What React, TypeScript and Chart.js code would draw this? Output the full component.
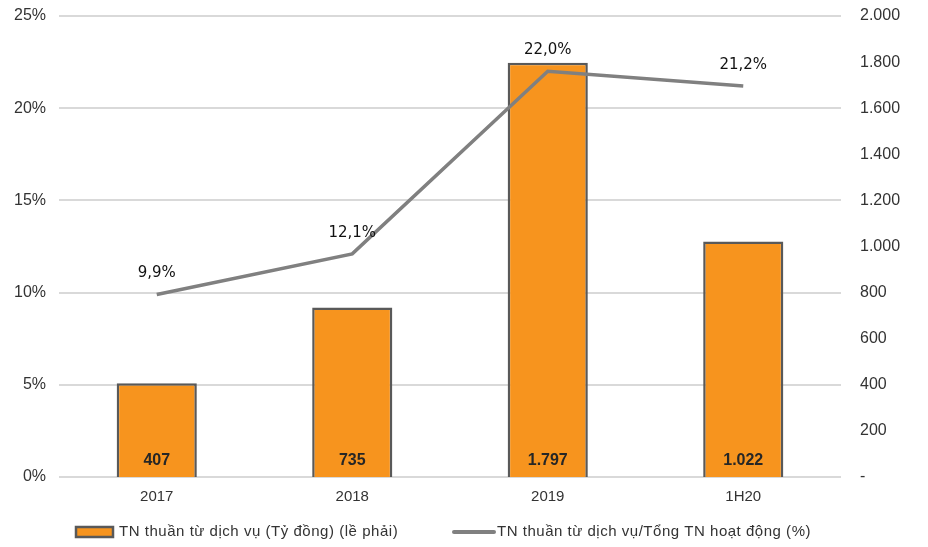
import React, { useEffect, useRef } from "react";
import { Chart, registerables } from "chart.js";

Chart.register(...registerables);

const categories = ["2017", "2018", "2019", "1H20"];
const revenue = [407, 735, 1797, 1022];
const ratio = [9.9, 12.1, 22.0, 21.2];
const barLabel = "TN thuần từ dịch vụ (Tỷ đồng) (lề phải)";
const lineLabel = "TN thuần từ dịch vụ/Tổng TN hoạt động (%)";

const ORANGE = "#F7941E";
const BAR_BORDER = "#595959";
const LINE = "#808080";
const TEXT = "#333333";
const FONT = "'Liberation Sans', Arial, sans-serif";

function fmtThousands(v: number): string {
  if (v === 0) return "-";
  const s = Math.round(v).toString();
  return s.replace(/\B(?=(\d{3})+(?!\d))/g, ".");
}
function fmtPct(v: number): string {
  return v.toFixed(1).replace(".", ",") + "%";
}

const labelsPlugin = {
  id: "customLabels",
  afterDatasetsDraw(chart: any) {
    const ctx = chart.ctx;
    ctx.save();
    const barMeta = chart.getDatasetMeta(0);
    ctx.font = `bold 16px ${FONT}`;
    ctx.fillStyle = "#262626";
    ctx.textAlign = "center";
    ctx.textBaseline = "middle";
    barMeta.data.forEach((el: any, i: number) => {
      ctx.fillText(fmtThousands(revenue[i]), el.x, el.base - 16);
    });
    const lineMeta = chart.getDatasetMeta(1);
    ctx.font = `15px 'DejaVu Sans', sans-serif`;
    ctx.fillStyle = "#111111";
    lineMeta.data.forEach((el: any, i: number) => {
      ctx.fillText(fmtPct(ratio[i]), el.x, el.y - 21);
    });
    ctx.restore();
  },
  afterDraw(chart: any) {
    const ctx = chart.ctx;
    ctx.save();
    const y = 532;
    ctx.fillStyle = ORANGE;
    ctx.strokeStyle = BAR_BORDER;
    ctx.lineWidth = 2.5;
    ctx.fillRect(76, 527, 37, 10);
    ctx.strokeRect(76, 527, 37, 10);
    ctx.font = `15px ${FONT}`;
    ctx.fillStyle = TEXT;
    ctx.textAlign = "left";
    ctx.textBaseline = "middle";
    const drawFit = (text: string, x: number, target: number) => {
      (ctx as any).letterSpacing = "0px";
      const w = ctx.measureText(text).width;
      const sp = (target - w) / text.length;
      (ctx as any).letterSpacing = sp.toFixed(2) + "px";
      ctx.fillText(text, x, y);
      (ctx as any).letterSpacing = "0px";
    };
    drawFit(barLabel, 119, 279);
    ctx.strokeStyle = LINE;
    ctx.lineWidth = 4;
    ctx.lineCap = "round";
    ctx.beginPath();
    ctx.moveTo(454, y);
    ctx.lineTo(494, y);
    ctx.stroke();
    drawFit(lineLabel, 497, 314);
    ctx.restore();
  },
};

export default function App() {
  const ref = useRef<HTMLCanvasElement>(null);
  useEffect(() => {
    document.body.style.margin = "0";
    const chart = new Chart(ref.current!, {
      type: "bar",
      data: {
        labels: categories,
        datasets: [
          {
            type: "bar",
            label: barLabel,
            data: revenue,
            yAxisID: "y1",
            backgroundColor: ORANGE,
            borderColor: BAR_BORDER,
            borderWidth: 2.5,
            barPercentage: 0.41,
            categoryPercentage: 1,
            order: 1,
          },
          {
            type: "line",
            label: lineLabel,
            data: ratio,
            yAxisID: "y",
            borderColor: LINE,
            borderWidth: 3.5,
            pointRadius: 0,
            tension: 0,
            order: 0,
          } as any,
        ],
      },
      options: {
        responsive: false,
        animation: false,
        layout: { padding: { top: 16, bottom: 40, left: 0, right: 0 } },
        plugins: { legend: { display: false }, tooltip: { enabled: false } },
        scales: {
          x: {
            grid: { display: false },
            border: { display: false },
            ticks: { color: TEXT, font: { family: FONT, size: 15 }, padding: 3 },
            afterFit: (s: any) => { s.height = 30; },
          },
          y: {
            position: "left",
            min: 0,
            max: 25,
            ticks: {
              stepSize: 5,
              color: TEXT,
              font: { family: FONT, size: 16 },
              padding: 13,
              callback: (v: any) => v + "%",
            },
            grid: { color: "#D9D9D9", lineWidth: 2, drawTicks: false },
            border: { display: false },
            afterFit: (s: any) => { s.width = 59; s.paddingTop = 0; s.paddingBottom = 0; },
          },
          y1: {
            position: "right",
            min: 0,
            max: 2000,
            ticks: {
              stepSize: 200,
              color: TEXT,
              font: { family: FONT, size: 16 },
              padding: 19,
              callback: (v: any) => fmtThousands(Number(v)),
            },
            grid: { display: false, drawTicks: false },
            border: { display: false },
            afterFit: (s: any) => { s.width = 87; s.paddingTop = 0; s.paddingBottom = 0; },
          },
        },
      },
      plugins: [labelsPlugin],
    });
    return () => chart.destroy();
  }, []);
  return <canvas ref={ref} width={928} height={547} style={{ display: "block" }} />;
}
